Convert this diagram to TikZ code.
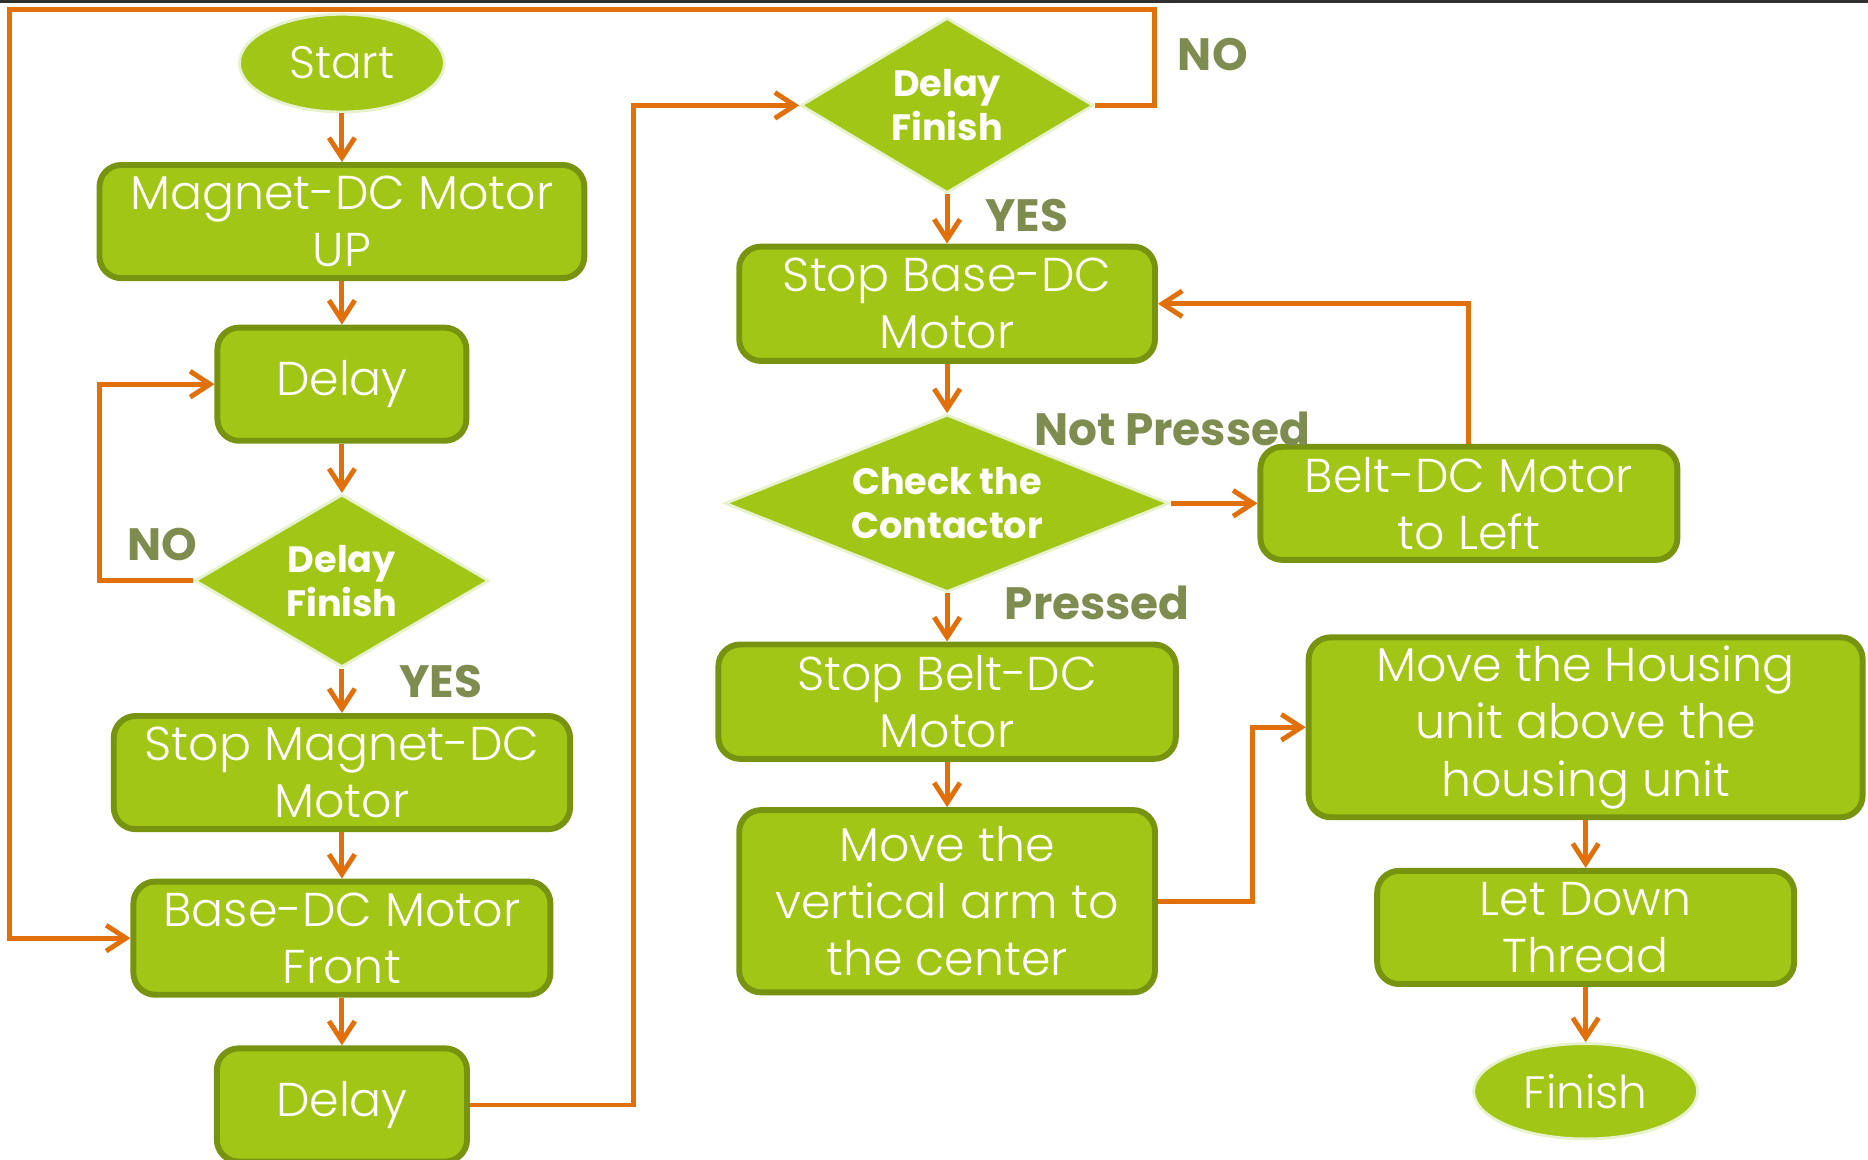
\documentclass[tikz,border=0pt]{standalone}
\usepackage{fontspec}
\setmainfont{Poppins}[UprightFont=* Light, BoldFont=* Bold]
\usetikzlibrary{shapes.geometric,arrows.meta}
\definecolor{leaf}{RGB}{162,198,22}
\definecolor{leafedge}{RGB}{120,147,16}
\definecolor{rim}{RGB}{232,241,205}
\definecolor{flowline}{RGB}{226,112,10}
\definecolor{answertext}{RGB}{126,140,80}
\definecolor{topedge}{RGB}{48,48,48}

\begin{document}
\begin{tikzpicture}[
    box/.style={rectangle, rounded corners=0.22cm, draw=leafedge, line width=1.7pt, fill=leaf, text=white, align=center, inner sep=0pt, font=\fontsize{13.6}{16.4}\selectfont},
    terminal/.style={ellipse, draw=rim, line width=0.8pt, fill=leaf, text=white, inner sep=0pt, font=\fontsize{13}{16}\selectfont},
    decision/.style={diamond, aspect=1.7, draw=rim, line width=0.8pt, fill=leaf, text=white, align=center, inner sep=0pt, font=\bfseries\fontsize{10.5}{12.6}\selectfont},
    answer/.style={text=answertext, inner sep=0pt, font=\bfseries\fontsize{13}{15}\selectfont},
    flow/.style={draw=flowline, line width=1.4pt, -{Straight Barb[length=2mm,width=2.6mm]}}
]
        \useasboundingbox (0, 0) rectangle (18.816, -11.676);
        \fill[topedge] (0, 0) rectangle (18.816, -0.03);

        \node[style=terminal, minimum width=2.064cm, minimum height=0.984cm] (start) at (3.444, -0.636) {Start};
        \node[style=box, minimum width=4.884cm, minimum height=1.14cm] (magnet) at (3.444, -2.232) {Magnet-DC Motor\\UP};
        \node[style=box, minimum width=2.508cm, minimum height=1.14cm] (delay1) at (3.444, -3.870) {Delay};
        \node[style=decision, minimum width=2.964cm, minimum height=1.74cm] (dfin1) at (3.444, -5.850) {Delay\\Finish};
        \node[style=box, minimum width=4.596cm, minimum height=1.14cm] (stopmag) at (3.444, -7.782) {Stop Magnet-DC\\Motor};
        \node[style=box, minimum width=4.2cm, minimum height=1.14cm] (basefront) at (3.444, -9.450) {Base-DC Motor\\Front};
        \node[style=box, minimum width=2.52cm, minimum height=1.14cm] (delay2) at (3.444, -11.130) {Delay};

        \node[style=decision, minimum width=2.952cm, minimum height=1.764cm] (dfin2) at (9.540, -1.062) {Delay\\Finish};
        \node[style=box, minimum width=4.188cm, minimum height=1.152cm] (stopbase) at (9.540, -3.060) {Stop Base-DC\\Motor};
        \node[style=decision, aspect=2.5, minimum width=4.476cm, minimum height=1.788cm] (check) at (9.540, -5.070) {Check the\\Contactor};
        \node[style=box, minimum width=4.608cm, minimum height=1.152cm] (stopbelt) at (9.540, -7.068) {Stop Belt-DC\\Motor};
        \node[style=box, minimum width=4.188cm, minimum height=1.836cm] (movearm) at (9.540, -9.078) {Move the\\vertical arm to\\the center};

        \node[style=box, minimum width=4.2cm, minimum height=1.14cm] (belt) at (14.796, -5.070) {Belt-DC Motor\\to Left};
        \node[style=box, minimum width=5.58cm, minimum height=1.812cm] (housing) at (15.972, -7.326) {Move the Housing\\unit above the\\housing unit};
        \node[style=box, minimum width=4.2cm, minimum height=1.14cm] (letdown) at (15.972, -9.342) {Let Down\\Thread};
        \node[style=terminal, minimum width=2.256cm, minimum height=0.96cm] (finish) at (15.972, -10.992) {Finish};

        \coordinate (loopR) at (11.628, -0.096);
        \coordinate (loopL) at (0.096, -0.096);
        \coordinate (bend1) at (6.384, -11.130);

        \draw[style=flow]
            (start) edge (magnet)
            (magnet) edge (delay1)
            (delay1) edge (dfin1)
            (dfin1) edge (stopmag)
            (stopmag) edge (basefront)
            (basefront) edge (delay2)
            (dfin2) edge (stopbase)
            (stopbase) edge (check)
            (check) edge (belt)
            (check) edge (stopbelt)
            (stopbelt) edge (movearm)
            (housing) edge (letdown)
            (letdown) edge (finish)
        ;
        \draw[style=flow] (dfin1.west) -- ++(-0.948, 0) |- (delay1.west);
        \draw[style=flow] (delay2.east) -- (bend1) |- (dfin2.west);
        \draw[style=flow] (dfin2.east) -| (loopR) -- (loopL) |- (basefront.west);
        \draw[style=flow] (belt.north) |- (stopbase.east);
        \draw[style=flow] (movearm.east) -- ++(0.954, 0) |- (housing.west);

        \node[style=answer] (no1) at (1.632, -5.484) {NO};
        \node[style=answer] (yes1) at (4.440, -6.864) {YES};
        \node[style=answer] (no2) at (12.216, -0.552) {NO};
        \node[style=answer] (yes2) at (10.344, -2.172) {YES};
        \node[style=answer] (notpressed) at (11.808, -4.320) {Not Pressed};
        \node[style=answer] (pressed) at (11.052, -6.072) {Pressed};
\end{tikzpicture}
\end{document}
